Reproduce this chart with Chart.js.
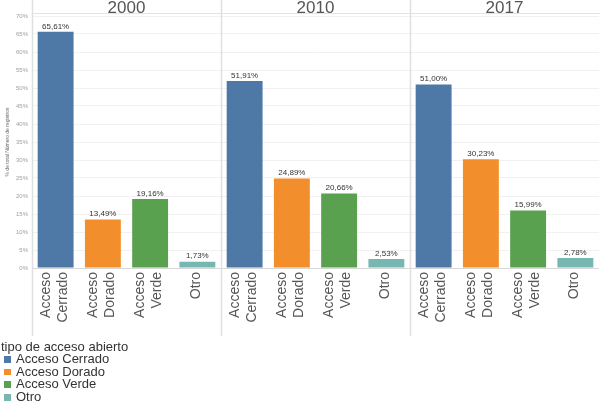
<!DOCTYPE html>
<html>
<head>
<meta charset="utf-8">
<script src="https://cdn.jsdelivr.net/npm/chart.js@4"></script>
<style>
  html, body { margin:0; padding:0; background:#fff; }
  body { width:600px; height:405px; position:relative; overflow:hidden; font-family:"Liberation Sans", Arial, sans-serif; }
  #wrap { position:absolute; left:0; top:0; width:600px; height:340px; }
  #legend { position:absolute; left:0; top:340px; color:#333; font-size:13px; }
  #legend .title { line-height:13px; height:13px; padding-left:1px; }
  #legend .item { line-height:12.7px; height:12.7px; position:relative; padding-left:16px; }
  #legend .sw { position:absolute; left:4px; top:3px; width:6.5px; height:6.5px; }
</style>
</head>
<body>
<div id="wrap"><canvas id="c" width="600" height="340"></canvas></div>
<div id="legend"></div>
<script>
const years = ['2000', '2010', '2017'];
const types = ['Acceso Cerrado', 'Acceso Dorado', 'Acceso Verde', 'Otro'];
const cerrado = [65.61, 51.91, 51.00];
const dorado  = [13.49, 24.89, 30.23];
const verde   = [19.16, 20.66, 15.99];
const otro    = [1.73, 2.53, 2.78];
const colors  = ['#4e79a7', '#f28e2b', '#59a14f', '#76b7b2'];
const yMax = 70, yStep = 5;
const legendTitle = 'tipo de acceso abierto';
const yTitle = '% de total Número de registros';

const series = [cerrado, dorado, verde, otro];
const nT = types.length;
const labels = [];
years.forEach(() => types.forEach(t => labels.push(t.split(' '))));
const datasets = types.map((t, ti) => {
  const data = [];
  years.forEach((y, yi) => types.forEach((tt, tj) => data.push(tj === ti ? series[ti][yi] : null)));
  return { label: t, data, backgroundColor: colors[ti], grouped: false,
           barPercentage: 0.76, categoryPercentage: 1, borderWidth: 0 };
});

const FONT = '"Liberation Sans", Arial, sans-serif';

const facetPlugin = {
  id: 'facet',
  beforeDraw(chart) {
    const ctx = chart.ctx;
    ctx.save();
    ctx.strokeStyle = '#e3e3e3';
    ctx.lineWidth = 1;
    ctx.beginPath();
    ctx.moveTo(chart.chartArea.left, 13.5);
    ctx.lineTo(600, 13.5);
    ctx.stroke();
    ctx.restore();
  },
  afterDraw(chart) {
    const ctx = chart.ctx, x = chart.scales.x;
    ctx.save();
    // separators
    ctx.strokeStyle = '#e0e0e0';
    ctx.lineWidth = 1.5;
    const seps = [chart.chartArea.left];
    for (let i = 1; i < years.length; i++) {
      seps.push((x.getPixelForValue(i * nT - 1) + x.getPixelForValue(i * nT)) / 2);
    }
    seps.forEach(px => {
      ctx.beginPath();
      ctx.moveTo(Math.round(px) + 0.5, 0);
      ctx.lineTo(Math.round(px) + 0.5, 336);
      ctx.stroke();
    });
    // year headers
    ctx.fillStyle = '#555';
    ctx.font = '17px ' + FONT;
    ctx.textAlign = 'center';
    ctx.textBaseline = 'alphabetic';
    years.forEach((y, yi) => {
      const cx = (x.getPixelForValue(yi * nT) + x.getPixelForValue(yi * nT + nT - 1)) / 2;
      ctx.fillText(y, cx, 12.5);
    });
    // category labels (rotated, multi-line, centred on each bar)
    ctx.fillStyle = '#555';
    ctx.font = '14px ' + FONT;
    ctx.textAlign = 'right';
    ctx.textBaseline = 'middle';
    const lh = 17;
    labels.forEach((lines, i) => {
      const px = x.getPixelForValue(i) - 1;
      lines.forEach((ln, j) => {
        const lx = px + (j - (lines.length - 1) / 2) * lh;
        ctx.save();
        ctx.translate(lx, chart.chartArea.bottom + 4);
        ctx.rotate(-Math.PI / 2);
        ctx.fillText(ln, 0, 0);
        ctx.restore();
      });
    });
    // value labels
    ctx.fillStyle = '#333';
    ctx.font = '8px ' + FONT;
    ctx.textAlign = 'center';
    ctx.textBaseline = 'bottom';
    chart.data.datasets.forEach((ds, di) => {
      const meta = chart.getDatasetMeta(di);
      meta.data.forEach((bar, i) => {
        const v = ds.data[i];
        if (v == null) return;
        ctx.fillText(v.toFixed(2).replace('.', ',') + '%', bar.x, bar.y - 1.5);
      });
    });
    ctx.restore();
  }
};

new Chart(document.getElementById('c'), {
  type: 'bar',
  data: { labels, datasets },
  options: {
    responsive: false,
    animation: false,
    layout: { padding: { top: 16, right: 1, left: 0, bottom: 0 } },
    plugins: { legend: { display: false }, tooltip: { enabled: false } },
    scales: {
      x: {
        grid: { display: false },
        border: { display: false },
        ticks: { display: false, autoSkip: false },
        afterFit(s) { s.height = 72; }
      },
      y: {
        min: 0, max: yMax,
        border: { display: false },
        grid: { drawTicks: false, color: c => c.tick && c.tick.value === 0 ? '#d8d8d8' : '#f1f1f1', lineWidth: 1 },
        ticks: { stepSize: yStep, color: '#a0a0a0', padding: 4,
                 font: { size: 6, family: FONT },
                 callback: v => v + '%' },
        title: { display: true, text: yTitle, color: '#666', font: { size: 5, family: FONT }, padding: { top: 5, bottom: 0 } },
        afterFit(s) { s.width = 32; }
      }
    }
  },
  plugins: [facetPlugin]
});

const lg = document.getElementById('legend');
const t = document.createElement('div'); t.className = 'title'; t.textContent = legendTitle; lg.appendChild(t);
types.forEach((ty, i) => {
  const d = document.createElement('div'); d.className = 'item';
  const s = document.createElement('span'); s.className = 'sw'; s.style.background = colors[i];
  d.appendChild(s); d.appendChild(document.createTextNode(ty)); lg.appendChild(d);
});
</script>
</body>
</html>
